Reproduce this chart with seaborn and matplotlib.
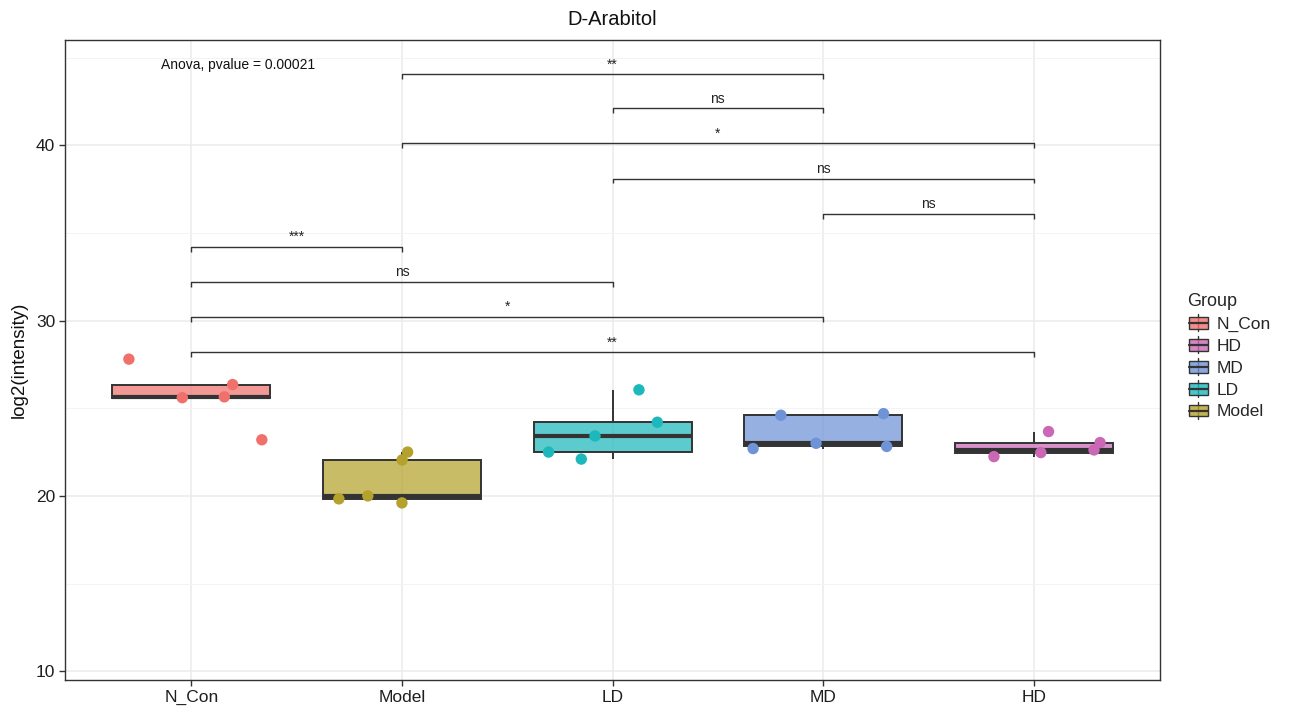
import numpy as np
import pandas as pd
import matplotlib
matplotlib.use("Agg")
import matplotlib.pyplot as plt
import seaborn as sns
from matplotlib.colors import to_rgba
from matplotlib.legend_handler import HandlerBase
from matplotlib.lines import Line2D
from matplotlib.patches import Patch, Rectangle
from matplotlib.ticker import MultipleLocator

# ---- data -----------------------------------------------------------------
groups = ["N_Con", "Model", "LD", "MD", "HD"]
n_con = [27.8, 26.35, 25.6, 25.65, 23.2]
model = [22.5, 22.05, 19.83, 20.0, 19.6]
ld = [26.05, 24.2, 23.42, 22.5, 22.1]
md = [24.69, 24.6, 23.0, 22.82, 22.7]
hd = [23.67, 23.04, 22.24, 22.47, 22.62]

legend_order = ["N_Con", "HD", "MD", "LD", "Model"]
colors = ["#F0716C", "#B4A22C", "#1CB8BC", "#6E93D6", "#CA68B5"]

comparisons = [("Model", "MD"), ("LD", "MD"), ("Model", "HD"), ("LD", "HD"),
               ("MD", "HD"), ("N_Con", "Model"), ("N_Con", "LD"),
               ("N_Con", "MD"), ("N_Con", "HD")]
signif = ["**", "ns", "*", "ns", "ns", "***", "ns", "*", "**"]
bracket_y = [44.05, 42.1, 40.1, 38.1, 36.1, 34.2, 32.2, 30.2, 28.2]
anova_label = "Anova, pvalue = 0.00021"

values = {"N_Con": n_con, "Model": model, "LD": ld, "MD": md, "HD": hd}
df = pd.DataFrame([(g, v) for g in groups for v in values[g]],
                  columns=["group", "value"])
palette = dict(zip(groups, colors))

# ---- style ----------------------------------------------------------------
sns.set_style("white")
plt.rcParams["font.family"] = ["Liberation Sans", "DejaVu Sans"]
dark = "#333333"

fig = plt.figure(figsize=(12.95, 7.16), dpi=100)
fig.patch.set_facecolor("white")
ax = fig.add_axes([0.0502, 0.0503, 0.8456, 0.8938])

sns.boxplot(data=df, x="group", y="value", hue="group", order=groups,
            hue_order=groups, palette=palette, width=0.75, showfliers=False,
            showcaps=False, linewidth=1.4, linecolor=dark, saturation=1,
            medianprops={"linewidth": 3.0, "color": dark},
            legend=False, ax=ax)
for p in ax.patches:
    fc = p.get_facecolor()
    p.set_facecolor((fc[0], fc[1], fc[2], 0.72))

np.random.seed(7)
sns.stripplot(data=df, x="group", y="value", hue="group", order=groups,
              hue_order=groups, palette=palette, jitter=0.35, size=8.2,
              linewidth=0, legend=False, ax=ax, zorder=4)

# ---- axes -----------------------------------------------------------------
ax.set_xlim(-0.6, 4.6)
ax.set_ylim(9.5, 46.0)
ax.set_yticks([10, 20, 30, 40])
ax.yaxis.set_minor_locator(MultipleLocator(5))
ax.set_axisbelow(True)
ax.grid(which="major", color="#EBEBEB", linewidth=1.1)
ax.grid(which="minor", axis="y", color="#F3F3F3", linewidth=0.7)
ax.tick_params(which="major", length=4, width=1, color=dark, labelsize=12.5,
               labelcolor="#1E1E1E", bottom=True, left=True, pad=3)
ax.tick_params(which="minor", length=0)
for s in ax.spines.values():
    s.set_color(dark)
    s.set_linewidth(1.0)

ax.set_xlabel("")
ax.set_ylabel("log2(intensity)", fontsize=13.5, labelpad=6, color="#111111")
ax.set_title("D-Arabitol", fontsize=14.5, pad=11, color="#111111")

# ---- significance brackets ------------------------------------------------
tip = 0.28
for (a, b), lab, y in zip(comparisons, signif, bracket_y):
    x1, x2 = groups.index(a), groups.index(b)
    ax.plot([x1, x1, x2, x2], [y - tip, y, y, y - tip], color=dark,
            linewidth=1.0, zorder=5, solid_capstyle="butt")
    ax.text((x1 + x2) / 2, y + 0.33, lab, ha="center", va="baseline",
            fontsize=10, color="#222222")

ax.text(-0.143, 44.33, anova_label, ha="left", va="baseline", fontsize=10,
        color="#111111")


# ---- legend with boxplot keys ---------------------------------------------
class BoxKey(HandlerBase):
    def create_artists(self, legend, orig_handle, xdescent, ydescent,
                       width, height, fontsize, trans):
        fc = orig_handle.get_facecolor()
        x0, y0 = -xdescent, -ydescent
        cx = x0 + width / 2
        whisk = Line2D([cx, cx], [y0 - 0.05 * height, y0 + 1.05 * height],
                       color=dark, linewidth=1.0, transform=trans)
        box = Rectangle((x0 + 0.05 * width, y0 + 0.12 * height),
                        0.9 * width, 0.76 * height,
                        facecolor=fc, edgecolor=dark, linewidth=1.0,
                        transform=trans)
        med = Line2D([x0 + 0.05 * width, x0 + 0.95 * width],
                     [y0 + 0.5 * height] * 2, color=dark, linewidth=1.6,
                     transform=trans)
        return [whisk, box, med]


handles = [Patch(facecolor=to_rgba(palette[g], 0.8)) for g in legend_order]
leg = fig.legend(handles, legend_order, title="Group", loc="upper left",
                 bbox_to_anchor=(0.905, 0.613), frameon=False, fontsize=12.5,
                 title_fontsize=13, handler_map={Patch: BoxKey()},
                 labelspacing=0.3, handletextpad=0.45, handlelength=1.25,
                 handleheight=1.0, alignment="left")

fig.savefig("out.png", dpi=100, facecolor="white")
